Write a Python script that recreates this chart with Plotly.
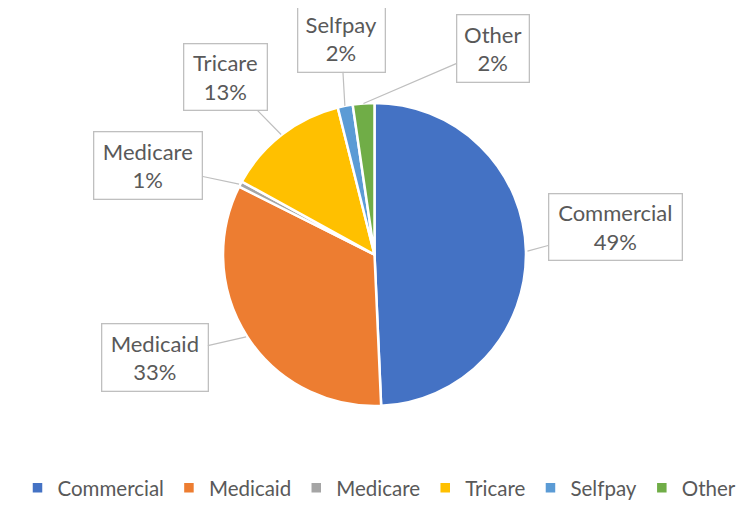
import math
import plotly.graph_objects as go

categories = ["Commercial", "Medicaid", "Medicare", "Tricare", "Selfpay", "Other"]
values = [49.3, 33.1, 0.6, 13.1, 1.6, 2.3]
pct_labels = ["49%", "33%", "1%", "13%", "2%", "2%"]
colors = ["#4472C4", "#ED7D31", "#A5A5A5", "#FFC000", "#5B9BD5", "#70AD47"]

OFF = 8  # page body margin of the html page
W, H = 751 - OFF, 508 - OFF
CX, CY, R = 374.5 - OFF, 257 - OFF, 153
# label box centers (page px) and sizes
box_pos = [(615, 229.5), (154.5, 361), (148.5, 167), (225, 78.5), (341, 39), (492.5, 49)]
box_size = [(134, 67), (107, 68), (109, 68), (84, 67), (88, 68), (73, 68)]

FONT = "Lato"
GRAY = "#595959"

fig = go.Figure()
fig.add_trace(go.Pie(
    labels=categories, values=values, sort=False, direction="clockwise", rotation=0,
    marker=dict(colors=colors, line=dict(color="white", width=2.5)),
    textinfo="none", hoverinfo="label+percent",
    domain=dict(x=[(CX - R) / W, (CX + R) / W], y=[1 - (CY + R) / H, 1 - (CY - R) / H]),
    showlegend=True,
))

total = sum(values)
cum = 0.0
annotations = []
for i, (cat, v) in enumerate(zip(categories, values)):
    mid = (cum + v / 2) / total * 2 * math.pi
    cum += v
    tx = CX + R * math.sin(mid)
    ty = CY - R * math.cos(mid)
    bx, by = box_pos[i][0] - OFF, box_pos[i][1] - OFF
    bw, bh = box_size[i]
    annotations.append(dict(
        x=tx / W, y=1 - ty / H, xref="paper", yref="paper",
        text=f"{cat}<br>{pct_labels[i]}", showarrow=True, arrowhead=0, arrowwidth=1.2,
        arrowcolor="#BFBFBF", ax=bx - tx, ay=by - ty,
        bordercolor="#BFBFBF", borderwidth=1.3, borderpad=0, bgcolor="white",
        width=bw - 2, height=bh - 2, align="center", valign="middle",
        font=dict(family=FONT, size=22, color=GRAY),
    ))

fig.update_layout(
    width=W, height=H, margin=dict(l=0, r=0, t=0, b=0),
    paper_bgcolor="white", plot_bgcolor="white",
    annotations=annotations,
    legend=dict(orientation="h", x=0.5, xanchor="center", y=1 - (493 - OFF) / H, yanchor="middle",
                font=dict(family=FONT, size=20.5, color=GRAY), itemwidth=30,
                tracegroupgap=0),
)
fig.write_html("out.html")
